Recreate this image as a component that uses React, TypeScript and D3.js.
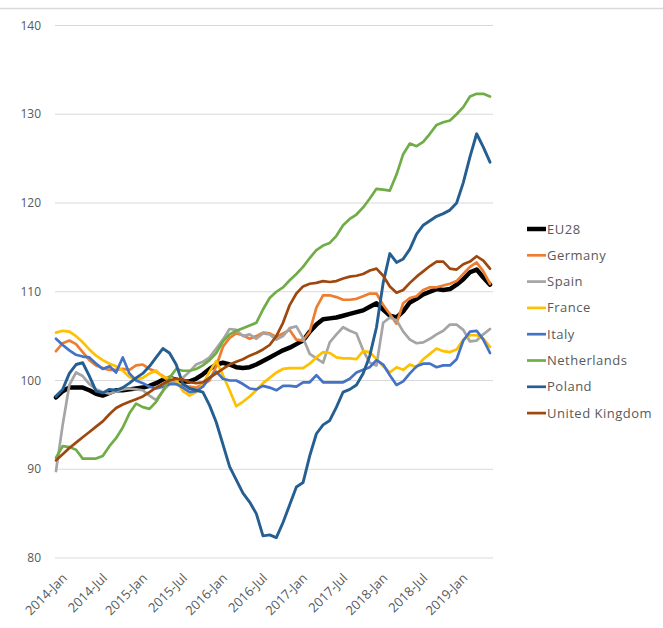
import React from "react";
import * as d3 from "d3";

const monthNames = ["Jan","Feb","Mar","Apr","May","Jun","Jul","Aug","Sep","Oct","Nov","Dec"];
const months: string[] = [];
for (let y = 2014; y <= 2019; y++) for (let m = 0; m < 12; m++) if (y < 2019 || m < 6) months.push(`${y}-${monthNames[m]}`);

const tickLabels = ["2014-Jan","2014-Jul","2015-Jan","2015-Jul","2016-Jan","2016-Jul","2017-Jan","2017-Jul","2018-Jan","2018-Jul","2019-Jan"];
const yTicks = [80, 90, 100, 110, 120, 130, 140];

const eu28 = [98.1,98.8,99.2,99.2,99.2,98.9,98.5,98.3,98.6,98.9,98.9,99.0,99.1,99.2,99.4,99.7,100.1,100.3,100.1,99.9,99.9,100.2,100.7,101.3,101.8,102.0,101.8,101.5,101.4,101.5,101.8,102.2,102.6,103.0,103.4,103.7,104.1,104.5,105.5,106.3,106.9,107.0,107.1,107.3,107.5,107.7,107.9,108.3,108.7,108.0,107.3,107.1,107.8,108.8,109.2,109.7,110.0,110.3,110.2,110.3,110.8,111.4,112.2,112.5,111.6,110.8];
const germany = [103.3,104.2,104.5,104.1,103.2,102.3,101.7,101.4,101.2,101.2,101.3,101.2,101.7,101.8,101.3,101.0,100.5,99.8,99.6,99.5,99.3,99.2,99.6,100.0,101.6,103.8,104.8,105.3,105.1,104.7,105.0,105.4,105.3,104.9,105.3,105.7,104.6,104.5,105.5,108.2,109.6,109.6,109.4,109.1,109.1,109.2,109.5,109.8,109.8,108.5,107.5,106.4,108.7,109.3,109.5,110.2,110.5,110.5,110.7,110.9,111.2,112.0,112.8,113.3,112.3,110.9];
const spain = [89.8,95.0,99.5,100.9,100.5,99.6,99.0,98.7,98.5,98.8,99.0,99.1,99.0,98.9,98.3,97.8,98.8,99.6,100.0,100.3,101.0,101.8,102.1,102.6,103.6,104.6,105.8,105.7,105.0,105.2,104.7,105.3,105.2,104.6,105.0,105.9,106.1,104.8,103.0,102.5,102.0,104.3,105.2,106.0,105.6,105.3,103.4,102.0,101.7,106.5,107.1,106.8,105.5,104.6,104.2,104.3,104.7,105.2,105.6,106.3,106.3,105.7,104.4,104.5,105.2,105.8];
const france = [105.4,105.6,105.5,105.0,104.3,103.5,102.8,102.3,101.9,101.6,101.1,100.4,100.1,100.3,100.8,101.1,100.4,100.3,100.1,98.8,98.3,98.7,99.6,101.0,102.2,100.6,98.9,97.1,97.6,98.2,98.9,99.7,100.3,100.9,101.3,101.4,101.4,101.4,101.9,102.6,103.2,103.1,102.6,102.5,102.5,102.4,103.3,103.2,102.4,101.6,100.9,101.5,101.2,101.8,101.5,102.4,103.0,103.6,103.3,103.2,103.5,104.6,105.1,105.1,104.7,103.8];
const italy = [104.7,104.0,103.4,102.9,102.7,102.6,101.9,101.3,101.6,100.9,102.6,100.8,100.0,99.7,99.3,99.1,99.3,99.6,99.6,99.2,98.7,98.8,99.3,100.3,101.0,100.2,100.0,100.0,99.6,99.1,99.0,99.4,99.2,98.9,99.4,99.4,99.3,99.8,99.8,100.6,99.8,99.8,99.8,99.8,100.2,100.9,101.2,101.5,102.3,101.8,100.6,99.5,99.9,100.8,101.6,101.9,101.9,101.5,101.7,101.7,102.4,104.5,105.5,105.6,104.6,103.1];
const netherlands = [91.3,92.6,92.5,92.2,91.2,91.2,91.2,91.5,92.6,93.5,94.7,96.3,97.4,97.0,96.8,97.6,98.8,100.3,101.3,101.1,101.1,101.3,101.7,102.3,103.1,104.4,105.2,105.6,105.9,106.2,106.5,108.0,109.3,110.0,110.5,111.3,112.0,112.8,113.8,114.7,115.2,115.5,116.3,117.5,118.2,118.7,119.5,120.5,121.6,121.5,121.4,123.2,125.5,126.7,126.4,126.9,127.8,128.8,129.1,129.3,130.0,130.8,132.0,132.3,132.3,132.0];
const poland = [98.2,99.0,100.8,101.8,102.0,100.5,98.8,98.6,99.0,98.9,99.2,99.7,100.3,100.8,101.6,102.6,103.6,103.1,101.8,99.6,99.1,98.9,98.7,97.2,95.3,92.8,90.3,88.8,87.3,86.3,85.0,82.5,82.6,82.3,84.0,86.0,88.0,88.5,91.5,94.0,95.0,95.5,97.0,98.7,99.0,99.5,100.8,102.8,106.0,111.0,114.3,113.3,113.7,114.8,116.5,117.5,118.0,118.5,118.8,119.2,120.0,122.3,125.2,127.8,126.3,124.6];
const uk = [91.0,91.7,92.4,93.0,93.6,94.2,94.8,95.4,96.2,96.9,97.3,97.6,97.9,98.2,98.7,99.2,99.6,100.0,100.2,100.1,99.8,99.7,99.8,100.3,100.8,101.3,101.8,102.1,102.4,102.8,103.1,103.5,104.0,105.0,106.5,108.5,109.8,110.6,110.9,111.0,111.2,111.1,111.2,111.5,111.7,111.8,112.0,112.4,112.6,111.8,110.6,109.9,110.2,111.0,111.7,112.3,112.9,113.4,113.4,112.6,112.5,113.1,113.4,114.0,113.5,112.6];

const seriesNames = ["EU28","Germany","Spain","France","Italy","Netherlands","Poland","United Kingdom"];
const seriesValues = [eu28, germany, spain, france, italy, netherlands, poland, uk];
const seriesColors = ["#000000","#ED7D31","#A5A5A5","#FFC000","#4472C4","#70AD47","#255E91","#9E480E"];
const seriesWidths = [4.5,2.7,2.7,2.7,2.7,2.7,2.9,2.7];

export default function App() {
  const W = 663, H = 628;
  const x = d3.scalePoint<string>().domain(months).range([56, 490]);
  const y = d3.scaleLinear().domain([80, 140]).range([558, 25.5]);
  const line = d3.line<number>().x((_, i) => x(months[i]) as number).y(d => y(d));
  const font = "'Open Sans', 'Liberation Sans', sans-serif";
  return (
    <svg width={W} height={H} style={{ position: "absolute", left: 0, top: 0, background: "#fff" }}>
      <line x1={0} x2={W} y1={8.5} y2={8.5} stroke="#d9d9d9" strokeWidth={1.5} />
      {yTicks.map(t => (
        <g key={t}>
          <line x1={55} x2={493} y1={y(t)} y2={y(t)} stroke="#d9d9d9" strokeWidth={1.2} />
          <text x={41} y={y(t)} dy="0.35em" textAnchor="end" fontSize={12} fill="#595959" fontFamily={font}>{t}</text>
        </g>
      ))}
      {tickLabels.map(l => (
        <text key={l} transform={`translate(${(x(l) as number) + 5},${572}) rotate(-45)`} textAnchor="end" dy="0.75em" fontSize={13} fill="#595959" fontFamily={font}>{l}</text>
      ))}
      {seriesValues.map((vals, k) => (
        <path key={seriesNames[k]} d={line(vals) || ""} fill="none" stroke={seriesColors[k]} strokeWidth={seriesWidths[k]} strokeLinejoin="round" strokeLinecap="round" />
      ))}
      {seriesNames.map((n, k) => {
        const ly = 229 + k * 26.3;
        return (
          <g key={n}>
            <line x1={527} x2={546} y1={ly} y2={ly} stroke={seriesColors[k]} strokeWidth={k === 0 ? 4.5 : 2.7} />
            <text x={547} y={ly} dy="0.35em" fontSize={13} letterSpacing={0.5} fill="#595959" fontFamily={font}>{n}</text>
          </g>
        );
      })}
    </svg>
  );
}
